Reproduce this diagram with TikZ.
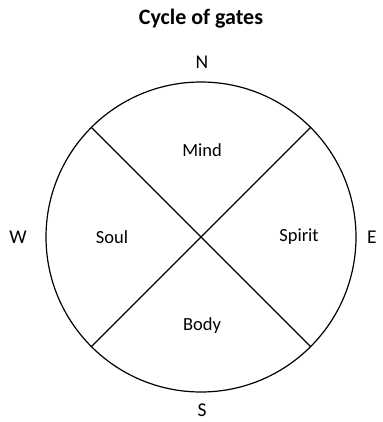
\documentclass[tikz,border=0pt]{standalone}
\usepackage{fontspec}
\setmainfont{Carlito}
\usetikzlibrary{positioning}
\tikzset{
  gate/.style={font=\fontsize{18.5}{22}\selectfont},
  compass/.style={font=\fontsize{19.5}{23}\selectfont},
  ttl/.style={font=\bfseries\fontsize{22}{26}\selectfont},
  cross/.style={line width=1.2pt, black},
}

\begin{document}
\begin{tikzpicture}[x=1pt, y=-1pt]
  \useasboundingbox (0,0) rectangle (382,422);
%---------------- title ----------------
  \node[ttl] (title) at (201,19) {Cycle of gates};
%---------------- circle and diagonals ----------------
  \coordinate (c) at (201,237);
  \draw[cross] (c) circle (155);
  \path (c) ++(135:155) coordinate (nw);
  \path (c) ++(45:155) coordinate (ne);
  \path (c) ++(-135:155) coordinate (sw);
  \path (c) ++(-45:155) coordinate (se);
  \draw[cross] (nw) -- (se);
  \draw[cross] (ne) -- (sw);
%---------------- gates ----------------
  \node[gate] (mind) at (202,150) {Mind};
  \node[gate] (soul) at (112,237) {Soul};
  \node[gate] (spirit) at (299,237) {Spirit};
  \node[gate] (body) at (202,326) {Body};
%---------------- compass points ----------------
  \node[compass] (n) at (202,62) {N};
  \node[compass] (s) at (202,410) {S};
  \node[compass] (w) at (18,237) {W};
  \node[compass] (e) at (372,237) {E};
\end{tikzpicture}
\end{document}
